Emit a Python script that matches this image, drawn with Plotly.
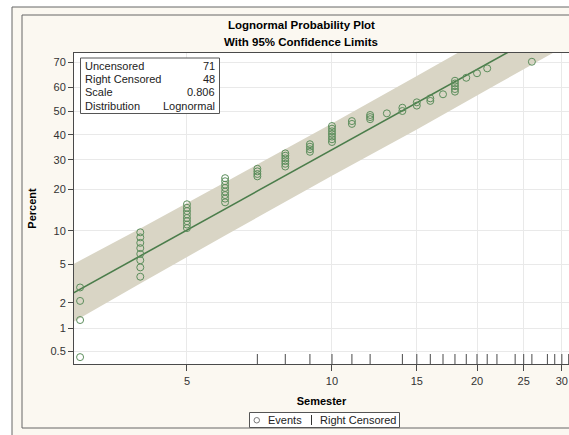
import math
from statistics import NormalDist
import plotly.graph_objects as go

N = NormalDist()

# ---------------- data ----------------
event_semester = ([3] * 4 + [4] * 8 + [5] * 8 + [6] * 8 + [7] * 4 + [8] * 6 + [9] * 4 +
                  [10] * 7 + [11] * 2 + [12] * 3 + [13] + [14] * 2 + [15] * 2 + [16] * 2 +
                  [17] + [18] * 5 + [19] + [20] + [21] + [26])
event_percent = [0.42, 1.26, 2.10, 2.94,
                 3.8, 4.7, 5.5, 6.3, 7.1, 7.9, 8.8, 9.7,
                 10.5, 11.2, 11.9, 12.6, 13.4, 14.2, 15.0, 15.9,
                 16.4, 17.4, 18.4, 19.4, 20.5, 21.5, 22.6, 23.6,
                 24.2, 25.0, 25.9, 26.8,
                 27.6, 28.6, 29.6, 30.6, 31.6, 32.5,
                 33.1, 34.1, 35.1, 36.1,
                 37.0, 38.1, 39.2, 40.3, 41.4, 42.5, 43.6,
                 44.5, 45.7,
                 46.5, 47.4, 48.3,
                 49.0,
                 50.0, 51.4,
                 52.3, 53.7,
                 54.3, 55.4,
                 57.1,
                 58.2, 59.3, 60.5, 61.6, 62.7,
                 63.9,
                 65.7,
                 67.6,
                 70.1]
censored_semester = [7, 8, 9, 10, 11, 12, 14, 15, 16, 17, 18, 19, 20, 21, 22,
                     24, 25, 26, 28, 29, 30, 31]

fit_location = 2.637   # log-scale location (median ~ 13.97)
fit_scale = 0.806
fit_x = [2.9, 32.0]

band_semester = [2.9, 4, 6, 10, 15, 22, 32]
band_lower_pct = [1.19, 3.24, 9.13, 24.4, 42.2, 61.3, 77.5]
band_upper_pct = [5.04, 10.4, 22.3, 44.7, 64.6, 80.5, 91.0]

y_tick_pct = [0.5, 1, 2, 5, 10, 20, 30, 40, 50, 60, 70]
y_tick_text = ["0.5", "1", "2", "5", "10", "20", "30", "40", "50", "60", "70"]
x_tick_vals = [5, 10, 15, 20, 25, 30]
x_tick_text = ["5", "10", "15", "20", "25", "30"]

inset_labels = ["Uncensored", "Right Censored", "Scale", "Distribution"]
inset_values = ["71", "48", "0.806", "Lognormal"]

legend_labels = ["Events", "Right Censored"]

# ---------------- helpers ----------------
def pz(p):
    return N.inv_cdf(p / 100.0)

W, H = 569, 435
L, R, T, B = 74, 0, 53, 71
PW, PH = W - L - R, H - T - B

def px2x(px):
    return (px - L) / PW

def py2y(py):
    return (H - B - py) / PH

FONT = "Liberation Sans, Arial, sans-serif"
GREEN_LINE = "#4b7d4b"
GREEN_MARK = "#5b8d5b"
BAND = "#d9d5c5"
CREAM = "#fbf8f1"
DARK = "#4a4a4a"

x_range = [0.4645, 1.492]
y_range = [-2.709, 0.621]

fig = go.Figure()

# confidence band
bx = band_semester + band_semester[::-1]
by = [pz(p) for p in band_upper_pct] + [pz(p) for p in band_lower_pct][::-1]
fig.add_trace(go.Scatter(x=bx, y=by, fill="toself", fillcolor=BAND, mode="none",
                         line=dict(width=0), showlegend=False, hoverinfo="skip"))

# fitted line
fy = [(math.log(t) - fit_location) / fit_scale for t in fit_x]
fig.add_trace(go.Scatter(x=fit_x, y=fy, mode="lines",
                         line=dict(color=GREEN_LINE, width=1.6),
                         showlegend=False, hoverinfo="skip"))

# events
fig.add_trace(go.Scatter(x=event_semester, y=[pz(p) for p in event_percent],
                         mode="markers", name="Events", showlegend=False,
                         marker=dict(symbol="circle-open", size=7,
                                     color=GREEN_MARK, line=dict(width=1, color=GREEN_MARK))))

# right-censored rug (tick of ~10 px rising from the axis)
px_per_z = PH / (y_range[1] - y_range[0])
rug_size = 10 / 1.4
rug_y = y_range[0] + 5.0 / px_per_z
fig.add_trace(go.Scatter(x=censored_semester, y=[rug_y] * len(censored_semester),
                         mode="markers", name="Right Censored", showlegend=False,
                         cliponaxis=False,
                         marker=dict(symbol="line-ns", size=rug_size, color=DARK,
                                     line=dict(width=1, color=DARK))))

shapes = [
    dict(type="rect", xref="paper", yref="paper", x0=px2x(12), x1=px2x(640),
         y0=py2y(445), y1=py2y(7), fillcolor=CREAM, line=dict(color="#666666", width=1),
         layer="below"),
    dict(type="rect", xref="paper", yref="paper", x0=px2x(22), x1=px2x(640),
         y0=py2y(428), y1=py2y(15), fillcolor=CREAM, line=dict(color="#666666", width=1),
         layer="below"),
    dict(type="rect", xref="paper", yref="paper", x0=0, x1=1.02, y0=0, y1=1,
         fillcolor="white", line=dict(width=0), layer="below"),
    # statistics inset box
    dict(type="rect", xref="paper", yref="paper", x0=px2x(80.5), x1=px2x(219.5),
         y0=py2y(113.5), y1=py2y(58), fillcolor="white",
         line=dict(color="#555555", width=1), layer="above"),
    # legend box
    dict(type="rect", xref="paper", yref="paper", x0=px2x(249.5), x1=px2x(399.5),
         y0=py2y(427.5), y1=py2y(412.5), fillcolor="white",
         line=dict(color="#555555", width=1), layer="above"),
    # legend symbols
    dict(type="circle", xref="paper", yref="paper", x0=px2x(254), x1=px2x(259.5),
         y0=py2y(423), y1=py2y(417.5), line=dict(color="#777777", width=1),
         layer="above"),
    dict(type="line", xref="paper", yref="paper", x0=px2x(311.5), x1=px2x(311.5),
         y0=py2y(425), y1=py2y(415), line=dict(color="#333333", width=1),
         layer="above"),
]

annotations = [
    dict(text="<b>Lognormal Probability Plot</b>", x=px2x(301), y=py2y(25),
         xref="paper", yref="paper", showarrow=False, xanchor="center", yanchor="middle",
         font=dict(family=FONT, size=11.5, color="#000")),
    dict(text="<b>With 95% Confidence Limits</b>", x=px2x(301), y=py2y(42),
         xref="paper", yref="paper", showarrow=False, xanchor="center", yanchor="middle",
         font=dict(family=FONT, size=11.5, color="#000")),
    dict(text=legend_labels[0], x=px2x(266), y=py2y(420), xref="paper", yref="paper",
         showarrow=False, xanchor="left", yanchor="middle",
         font=dict(family=FONT, size=11, color="#222")),
    dict(text=legend_labels[1], x=px2x(318), y=py2y(420), xref="paper", yref="paper",
         showarrow=False, xanchor="left", yanchor="middle",
         font=dict(family=FONT, size=11, color="#222")),
]
row_y = [65.7, 79.0, 92.3, 105.6]
for lab, val, ry in zip(inset_labels, inset_values, row_y):
    annotations.append(dict(text=lab, x=px2x(82.5), y=py2y(ry), xref="paper", yref="paper",
                            showarrow=False, xanchor="left", yanchor="middle",
                            font=dict(family=FONT, size=11, color="#222")))
    annotations.append(dict(text=val, x=px2x(217), y=py2y(ry), xref="paper", yref="paper",
                            showarrow=False, xanchor="right", yanchor="middle",
                            font=dict(family=FONT, size=11, color="#222")))

fig.update_layout(
    width=W, height=H,
    margin=dict(l=L, r=R, t=T, b=B, pad=0, autoexpand=False),
    paper_bgcolor="white", plot_bgcolor="white",
    shapes=shapes, annotations=annotations,
    showlegend=False,
    xaxis=dict(type="log", range=x_range, tickvals=x_tick_vals, ticktext=x_tick_text,
               showgrid=True, gridcolor="#e9e9e9", gridwidth=1,
               showline=True, linecolor=DARK, linewidth=1, mirror=True,
               ticks="outside", ticklen=6, tickcolor=DARK, ticklabelstandoff=1,
               tickfont=dict(family=FONT, size=11, color="#333"),
               title=dict(text="<b>Semester</b>", standoff=11,
                          font=dict(family=FONT, size=11, color="#000")),
               zeroline=False, automargin=False),
    yaxis=dict(range=y_range, tickvals=[pz(p) for p in y_tick_pct], ticktext=y_tick_text,
               showgrid=True, gridcolor="#e9e9e9", gridwidth=1,
               showline=True, linecolor=DARK, linewidth=1,
               ticks="outside", ticklen=5, tickcolor=DARK,
               tickfont=dict(family=FONT, size=11, color="#333"),
               title=dict(text="<b>Percent</b>", standoff=11,
                          font=dict(family=FONT, size=11, color="#000")),
               zeroline=False, automargin=False),
)

fig.write_html("out.html")
